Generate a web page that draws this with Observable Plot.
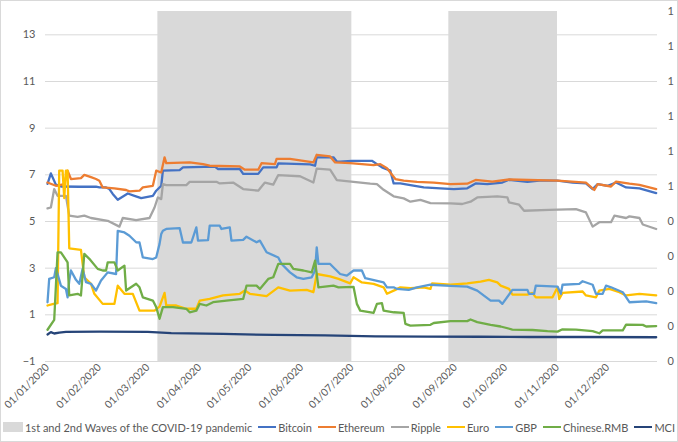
<!DOCTYPE html>
<html><head><meta charset="utf-8">
<script src="https://cdn.jsdelivr.net/npm/d3@7"></script>
<script src="https://cdn.jsdelivr.net/npm/@observablehq/plot@0.6"></script>
<style>
body{margin:0;background:#fff;font-family:Lato,"Open Sans",sans-serif;}
#wrap{position:relative;width:678px;height:442px;overflow:hidden;background:#fff}
#frame{position:absolute;left:0;top:0;width:678px;height:442px;box-sizing:border-box;border:1px solid #d9d9d9;pointer-events:none}
#legend{display:flex;justify-content:center;align-items:center;height:20px;font-size:11px;color:#595959;white-space:nowrap;margin-top:0px}
#legend .it{display:flex;align-items:center;margin:0 3px}
#legend .box{width:20px;height:10px;background:#d9d9d9;margin-right:2px}
#legend .ln{width:18px;height:2.5px;margin-right:2px}
</style></head>
<body><div id="wrap"><div id="chart"></div><div id="legend"></div><div id="frame"></div></div>
<script>
const seriesNames = ["Bitcoin","Ethereum","Ripple","Euro","GBP","Chinese.RMB","MCI"];
const seriesColors = ["#4472C4","#ED7D31","#A5A5A5","#FFC000","#5B9BD5","#70AD47","#264478"];
const waveLabel = "1st and 2nd Waves of the COVID-19 pandemic";
const waveStart = ["2020-03-07","2020-08-28"];
const waveEnd = ["2020-07-01","2020-11-01"];
const leftTicks = [-1,1,3,5,7,9,11,13];
const rightTicks = [0,0.1,0.2,0.3,0.4,0.5,0.6,0.7,0.8,0.9,1];
const xTicks = ["2020-01-01","2020-02-01","2020-03-01","2020-04-01","2020-05-01","2020-06-01","2020-07-01","2020-08-01","2020-09-01","2020-10-01","2020-11-01","2020-12-01"];

const bitcoin = [["2020-01-01",6.61],["2020-01-03",7.06],["2020-01-06",6.58],["2020-01-09",6.5],["2020-01-20",6.49],["2020-01-30",6.49],["2020-02-01",6.46],["2020-02-05",6.46],["2020-02-07",6.39],["2020-02-09",6.18],["2020-02-12",5.93],["2020-02-18",6.2],["2020-02-22",6.1],["2020-02-26",6.0],["2020-03-04",6.1],["2020-03-06",6.32],["2020-03-09",6.53],["2020-03-10",7.18],["2020-03-20",7.2],["2020-03-22",7.32],["2020-04-10",7.35],["2020-04-12",7.25],["2020-04-25",7.25],["2020-04-27",7.04],["2020-05-06",7.04],["2020-05-09",7.32],["2020-05-17",7.32],["2020-05-18",7.49],["2020-06-06",7.45],["2020-06-09",7.39],["2020-06-10",7.75],["2020-06-20",7.75],["2020-06-22",7.57],["2020-06-24",7.56],["2020-07-01",7.6],["2020-07-13",7.6],["2020-07-16",7.46],["2020-07-19",7.32],["2020-07-24",7.18],["2020-07-26",6.63],["2020-07-30",6.63],["2020-08-05",6.56],["2020-08-13",6.46],["2020-08-23",6.42],["2020-08-31",6.39],["2020-09-08",6.42],["2020-09-13",6.63],["2020-09-20",6.6],["2020-09-29",6.67],["2020-10-03",6.79],["2020-10-14",6.7],["2020-10-21",6.75],["2020-11-01",6.75],["2020-11-10",6.67],["2020-11-18",6.63],["2020-11-22",6.39],["2020-11-25",6.6],["2020-12-01",6.53],["2020-12-06",6.67],["2020-12-12",6.46],["2020-12-20",6.42],["2020-12-30",6.22]];
const ethereum = [["2020-01-01",6.67],["2020-01-06",6.53],["2020-01-11",6.6],["2020-01-13",7.18],["2020-01-15",6.82],["2020-01-21",6.86],["2020-01-23",7.0],["2020-01-27",6.9],["2020-01-30",6.82],["2020-02-01",6.75],["2020-02-03",6.46],["2020-02-10",6.42],["2020-02-17",6.35],["2020-02-19",6.29],["2020-02-25",6.32],["2020-02-27",6.46],["2020-03-04",6.53],["2020-03-06",7.18],["2020-03-09",7.1],["2020-03-11",7.75],["2020-03-12",7.5],["2020-03-26",7.53],["2020-04-03",7.46],["2020-04-07",7.39],["2020-04-25",7.36],["2020-04-28",7.22],["2020-05-06",7.22],["2020-05-08",7.5],["2020-05-16",7.46],["2020-05-17",7.68],["2020-05-25",7.68],["2020-06-08",7.53],["2020-06-10",7.86],["2020-06-18",7.79],["2020-06-21",7.53],["2020-06-30",7.5],["2020-07-14",7.42],["2020-07-18",7.46],["2020-07-22",7.28],["2020-07-27",6.82],["2020-08-01",6.75],["2020-08-09",6.7],["2020-08-19",6.67],["2020-08-29",6.6],["2020-09-08",6.62],["2020-09-13",6.78],["2020-09-23",6.71],["2020-10-03",6.8],["2020-11-01",6.75],["2020-11-18",6.67],["2020-11-23",6.35],["2020-11-25",6.6],["2020-12-03",6.5],["2020-12-06",6.71],["2020-12-14",6.62],["2020-12-20",6.57],["2020-12-30",6.39]];
const ripple = [["2020-01-01",5.56],["2020-01-03",5.6],["2020-01-05",6.39],["2020-01-07",6.1],["2020-01-12",6.1],["2020-01-14",5.25],["2020-01-19",5.2],["2020-01-23",5.25],["2020-01-27",5.15],["2020-02-06",5.03],["2020-02-13",4.78],["2020-02-15",5.15],["2020-02-23",5.06],["2020-03-02",5.15],["2020-03-05",5.6],["2020-03-07",6.03],["2020-03-09",5.96],["2020-03-10",6.6],["2020-03-12",6.56],["2020-03-24",6.56],["2020-03-26",6.7],["2020-04-11",6.7],["2020-04-13",6.63],["2020-04-21",6.67],["2020-04-27",6.39],["2020-05-06",6.32],["2020-05-10",6.67],["2020-05-15",6.58],["2020-05-18",6.99],["2020-05-31",6.94],["2020-06-08",6.67],["2020-06-10",7.27],["2020-06-18",7.22],["2020-06-22",6.77],["2020-07-12",6.62],["2020-07-16",6.6],["2020-07-20",6.36],["2020-07-26",6.08],["2020-08-01",5.99],["2020-08-05",5.85],["2020-08-11",5.93],["2020-08-17",5.79],["2020-08-29",5.78],["2020-09-05",5.75],["2020-09-10",5.85],["2020-09-14",6.03],["2020-09-26",6.08],["2020-10-02",6.03],["2020-10-03",5.82],["2020-10-09",5.72],["2020-10-12",5.46],["2020-10-27",5.5],["2020-11-12",5.53],["2020-11-18",5.39],["2020-11-22",4.78],["2020-11-26",4.97],["2020-12-03",4.97],["2020-12-05",5.25],["2020-12-12",5.15],["2020-12-14",5.22],["2020-12-20",5.15],["2020-12-22",4.87],["2020-12-30",4.68]];
const euro = [["2020-01-01",1.4],["2020-01-04",1.46],["2020-01-07",1.5],["2020-01-08",7.18],["2020-01-10",7.18],["2020-01-11",6.0],["2020-01-12",7.18],["2020-01-13",7.18],["2020-01-14",3.85],["2020-01-21",3.78],["2020-01-22",3.18],["2020-01-23",2.61],["2020-01-27",2.33],["2020-01-29",1.9],["2020-02-03",1.47],["2020-02-10",1.47],["2020-02-12",2.25],["2020-02-16",1.9],["2020-02-21",1.9],["2020-02-25",1.18],["2020-03-05",1.18],["2020-03-08",1.35],["2020-03-11",1.94],["2020-03-12",1.4],["2020-03-18",1.4],["2020-03-24",1.26],["2020-03-30",1.26],["2020-04-01",1.61],["2020-04-07",1.68],["2020-04-15",1.83],["2020-04-25",1.9],["2020-04-28",2.04],["2020-05-01",1.9],["2020-05-11",1.8],["2020-05-18",2.18],["2020-05-25",2.04],["2020-06-04",2.07],["2020-06-08",1.97],["2020-06-10",2.75],["2020-06-18",2.65],["2020-06-23",2.54],["2020-06-30",2.35],["2020-07-02",2.61],["2020-07-07",2.39],["2020-07-14",2.33],["2020-07-20",2.18],["2020-07-22",1.9],["2020-07-27",2.07],["2020-07-30",2.18],["2020-08-05",2.14],["2020-08-13",2.18],["2020-08-17",2.11],["2020-08-18",2.35],["2020-08-29",2.29],["2020-09-08",2.35],["2020-09-16",2.42],["2020-09-21",2.5],["2020-09-26",2.39],["2020-09-28",2.25],["2020-10-03",2.11],["2020-10-05",1.87],["2020-10-14",1.87],["2020-10-17",1.94],["2020-10-19",1.75],["2020-10-29",1.75],["2020-11-01",2.18],["2020-11-02",1.68],["2020-11-04",1.94],["2020-11-16",2.0],["2020-11-18",1.83],["2020-11-24",1.75],["2020-11-26",2.04],["2020-12-02",2.11],["2020-12-08",1.97],["2020-12-12",1.83],["2020-12-20",1.9],["2020-12-30",1.83]];
const gbp = [["2020-01-01",1.54],["2020-01-02",2.54],["2020-01-05",2.61],["2020-01-06",3.0],["2020-01-09",2.25],["2020-01-12",2.11],["2020-01-13",1.75],["2020-01-14",2.47],["2020-01-15",2.9],["2020-01-18",2.5],["2020-01-20",2.33],["2020-01-22",2.97],["2020-01-24",2.4],["2020-01-27",2.33],["2020-01-30",2.04],["2020-02-02",2.47],["2020-02-06",2.82],["2020-02-11",2.75],["2020-02-12",4.6],["2020-02-16",4.53],["2020-02-19",4.39],["2020-02-23",4.11],["2020-02-25",4.1],["2020-02-27",3.46],["2020-03-04",3.39],["2020-03-06",3.46],["2020-03-08",4.04],["2020-03-09",4.46],["2020-03-10",4.6],["2020-03-12",4.68],["2020-03-20",4.72],["2020-03-22",4.1],["2020-03-27",4.1],["2020-03-30",4.75],["2020-03-31",4.18],["2020-04-06",4.2],["2020-04-07",4.82],["2020-04-13",4.82],["2020-04-14",4.68],["2020-04-19",4.75],["2020-04-20",4.18],["2020-04-27",4.21],["2020-04-29",4.35],["2020-05-05",4.11],["2020-05-07",4.18],["2020-05-11",3.68],["2020-05-18",3.46],["2020-05-20",3.18],["2020-05-25",2.82],["2020-05-29",2.61],["2020-06-02",2.54],["2020-06-07",2.61],["2020-06-09",2.9],["2020-06-10",3.89],["2020-06-11",3.18],["2020-06-18",3.18],["2020-06-24",2.75],["2020-06-28",2.68],["2020-07-02",2.9],["2020-07-07",2.9],["2020-07-09",2.57],["2020-07-20",2.39],["2020-07-22",2.18],["2020-07-26",2.18],["2020-07-28",2.11],["2020-08-04",2.07],["2020-08-09",2.18],["2020-08-17",2.29],["2020-08-29",2.24],["2020-09-08",2.21],["2020-09-14",2.04],["2020-09-22",1.61],["2020-09-27",1.61],["2020-09-29",1.47],["2020-10-05",2.07],["2020-10-14",2.07],["2020-10-15",1.9],["2020-10-18",1.9],["2020-10-19",2.25],["2020-11-01",2.21],["2020-11-03",1.9],["2020-11-04",2.29],["2020-11-14",2.33],["2020-11-16",2.44],["2020-11-22",2.29],["2020-11-24",1.9],["2020-11-28",1.9],["2020-11-30",2.25],["2020-12-03",2.18],["2020-12-10",1.97],["2020-12-14",1.54],["2020-12-24",1.58],["2020-12-30",1.5]];
const chineseRMB = [["2020-01-01",0.36],["2020-01-05",0.78],["2020-01-07",3.68],["2020-01-09",3.68],["2020-01-13",3.25],["2020-01-14",1.83],["2020-01-19",1.9],["2020-01-21",1.83],["2020-01-23",3.61],["2020-01-26",3.4],["2020-01-31",2.97],["2020-02-03",2.9],["2020-02-05",2.9],["2020-02-06",3.25],["2020-02-10",3.25],["2020-02-12",2.9],["2020-02-16",3.11],["2020-02-17",2.04],["2020-02-23",2.33],["2020-02-25",2.18],["2020-02-27",1.75],["2020-03-04",1.61],["2020-03-06",1.33],["2020-03-08",0.83],["2020-03-10",1.33],["2020-03-16",1.33],["2020-03-24",1.26],["2020-03-26",1.11],["2020-03-30",1.18],["2020-04-01",1.47],["2020-04-05",1.4],["2020-04-09",1.54],["2020-04-17",1.61],["2020-04-27",1.68],["2020-04-29",2.25],["2020-05-05",2.25],["2020-05-07",2.11],["2020-05-12",2.54],["2020-05-15",2.61],["2020-05-18",3.18],["2020-05-25",3.18],["2020-05-27",2.97],["2020-06-02",2.9],["2020-06-07",2.82],["2020-06-09",3.32],["2020-06-11",2.18],["2020-06-20",2.25],["2020-06-23",2.18],["2020-07-02",2.2],["2020-07-04",1.47],["2020-07-06",1.18],["2020-07-14",1.08],["2020-07-16",1.47],["2020-07-19",1.5],["2020-07-20",1.18],["2020-07-26",1.11],["2020-08-01",1.08],["2020-08-02",0.61],["2020-08-05",0.54],["2020-08-17",0.57],["2020-08-19",0.65],["2020-08-29",0.73],["2020-09-08",0.73],["2020-09-10",0.8],["2020-09-14",0.69],["2020-09-22",0.57],["2020-09-28",0.5],["2020-10-05",0.37],["2020-10-17",0.35],["2020-10-26",0.3],["2020-11-01",0.28],["2020-11-04",0.38],["2020-11-12",0.37],["2020-11-22",0.3],["2020-11-26",0.21],["2020-11-28",0.33],["2020-12-10",0.33],["2020-12-12",0.58],["2020-12-22",0.57],["2020-12-24",0.5],["2020-12-30",0.52]];
const mci = [["2020-01-01",0.16],["2020-01-03",0.26],["2020-01-05",0.2],["2020-01-08",0.24],["2020-01-12",0.27],["2020-02-01",0.28],["2020-03-01",0.27],["2020-03-15",0.22],["2020-04-15",0.18],["2020-05-15",0.14],["2020-06-15",0.12],["2020-07-15",0.08],["2020-08-15",0.07],["2020-09-15",0.06],["2020-10-15",0.05],["2020-11-15",0.05],["2020-12-30",0.04]];

const seriesData = [bitcoin, ethereum, ripple, euro, gbp, chineseRMB, mci];
const rows = seriesData.flatMap((arr, i) => arr.map(([d, v]) => ({date: new Date(d), value: v, series: seriesNames[i]})));
const waves = waveStart.map((s, i) => ({start: new Date(s), end: new Date(waveEnd[i])}));
const yMin = -1, yMax = 14;
const toLeft = v => yMin + v * (yMax - yMin);

const chart = Plot.plot({
  width: 678, height: 417,
  marginLeft: 45, marginRight: 21, marginTop: 11, marginBottom: 56,
  style: {fontFamily: "Lato, 'Open Sans', sans-serif", fontSize: "11px", color: "#595959", background: "transparent"},
  x: {type: "utc", domain: [new Date(Date.UTC(2019,11,30,19)), new Date(Date.UTC(2020,11,30,19))]},
  y: {domain: [yMin, yMax]},
  color: {domain: seriesNames, range: seriesColors},
  marks: [
    Plot.gridY(leftTicks, {stroke: "#d9d9d9", strokeOpacity: 1, strokeWidth: 1}),
    Plot.rect(waves, {x1: "start", x2: "end", y1: yMin, y2: yMax, fill: "#d9d9d9"}),
    Plot.axisY(leftTicks, {anchor: "left", tickSize: 0, tickPadding: 10, fill: "#595959", fontSize: 11, label: null}),
    Plot.axisY(rightTicks.map(toLeft), {anchor: "right", tickSize: 0, tickPadding: 10, fill: "#595959", fontSize: 11, label: null, tickFormat: d => String(Math.round(((d - yMin) / (yMax - yMin)) * 10) / 10 >= 0.5 ? 1 : 0)}),
    Plot.axisX(xTicks.map(d => new Date(d)), {tickFormat: d3.utcFormat("%d/%m/%Y"), tickRotate: -45, tickSize: 0, tickPadding: 4, fill: "#595959", fontSize: 10.5, label: null}),
    Plot.ruleY([yMin], {stroke: "#d9d9d9"}),
    Plot.line(rows, {x: "date", y: "value", z: "series", stroke: "series", strokeWidth: 2.3, curve: "linear"})
  ]
});
document.getElementById("chart").appendChild(chart);

const legend = document.getElementById("legend");
const addItem = (html) => { const el = document.createElement("div"); el.className = "it"; el.innerHTML = html; legend.appendChild(el); };
addItem(`<span class="box"></span><span>${waveLabel}</span>`);
seriesNames.forEach((n, i) => addItem(`<span class="ln" style="background:${seriesColors[i]}"></span><span>${n}</span>`));
</script></body></html>
